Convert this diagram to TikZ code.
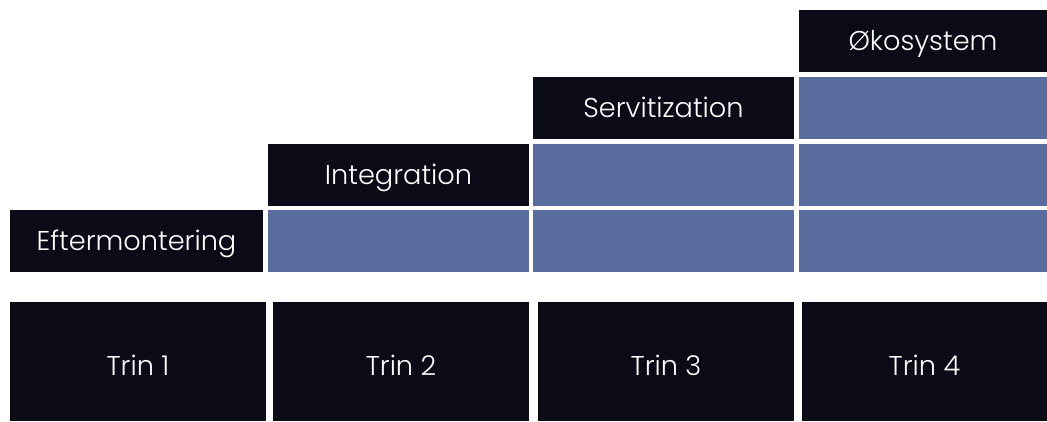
\documentclass[tikz,border=0pt]{standalone}
\usepackage{fontspec}
\IfFontExistsTF{Poppins Light}{\setmainfont{Poppins Light}}{\setmainfont{Poppins}}
\definecolor{ink}{HTML}{0B0B18}
\definecolor{slate}{HTML}{5A6B9E}
\begin{document}
\begin{tikzpicture}[x=1bp,y=-1bp,
  txt/.style={text=white, font=\fontsize{27.3}{30}\selectfont, text depth=0pt},
  cell/.style={rectangle, inner sep=0pt, outer sep=0pt, minimum height=62bp},
  label/.style={cell, fill=ink, txt, text height=19.2bp},
  fillcell/.style={cell, fill=slate},
  stage/.style={rectangle, inner sep=0pt, outer sep=0pt, minimum height=119bp,
    fill=ink, txt, text height=28bp}]
\useasboundingbox (0,0) rectangle (1047,421);
% staircase of level labels
\node[label, minimum width=253bp] (eft) at (136.5,241) {Eftermontering};
\node[label, minimum width=261bp] (int) at (398.5,175) {Integration};
\node[label, minimum width=261bp] (ser) at (663.5,108) {Servitization};
\node[label, minimum width=248bp] (oko) at (923,41) {Økosystem};
% filled cells below each label
\node[fillcell, minimum width=261bp] (c12) at (398.5,241) {};
\node[fillcell, minimum width=261bp] (c13) at (663.5,241) {};
\node[fillcell, minimum width=248bp] (c14) at (923,241) {};
\node[fillcell, minimum width=261bp] (c23) at (663.5,175) {};
\node[fillcell, minimum width=248bp] (c24) at (923,175) {};
\node[fillcell, minimum width=248bp] (c34) at (923,108) {};
% stage boxes along the bottom
\node[stage, minimum width=256bp] (t1) at (138,361.5) {Trin 1};
\node[stage, minimum width=256bp] (t2) at (401,361.5) {Trin 2};
\node[stage, minimum width=256bp] (t3) at (666,361.5) {Trin 3};
\node[stage, minimum width=245bp] (t4) at (924.5,361.5) {Trin 4};
\end{tikzpicture}
\end{document}
